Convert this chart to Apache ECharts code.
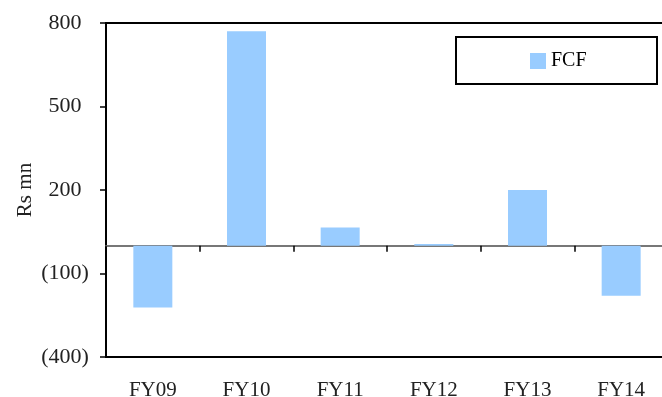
<!DOCTYPE html>
<html><head><meta charset="utf-8">
<script src="https://cdn.jsdelivr.net/npm/echarts@6/dist/echarts.min.js"></script>
<style>html,body{margin:0;padding:0;background:#fff}#c{width:662px;height:397px}</style>
</head><body><div id="c"></div>
<script>
var categories = ['FY09','FY10','FY11','FY12','FY13','FY14'];
var fcf = [-222, 770, 65, 6, 200, -180];
var seriesName = 'FCF';
var yTicks = {min: -400, max: 800, interval: 300};

var font = 'Liberation Serif, Times New Roman, serif';
var chart = echarts.init(document.getElementById('c'));
chart.setOption({
  animation: false,
  grid: {left: 106, top: 23, width: 562, bottom: 40, show: true, borderColor: '#000', borderWidth: 2,
    backgroundColor: 'transparent', containLabel: false, outerBoundsMode: 'none'},
  graphic: [{type: 'rect', shape: {x: 456, y: 37, width: 201, height: 47}, style: {fill: 'none', stroke: '#000', lineWidth: 2}, z: 10}],
  legend: {data: [seriesName], left: 525, top: 46, itemWidth: 16, itemHeight: 16, icon: 'rect', itemGap: 4,
    textStyle: {fontFamily: font, fontSize: 20, color: '#000'}},
  xAxis: [
    {type: 'category', data: categories, position: 'bottom', axisLine: {onZero: true, lineStyle: {color: '#777', width: 2}},
     axisTick: {show: true, length: 6, lineStyle: {color: '#000', width: 1.5}}, axisLabel: {show: false}},
    {type: 'category', data: categories, position: 'bottom', axisLine: {show: false}, axisTick: {show: false},
     axisLabel: {fontFamily: font, fontSize: 21, color: '#222', margin: 23}}
  ],
  yAxis: {type: 'value', min: yTicks.min, max: yTicks.max, interval: yTicks.interval,
    name: 'Rs mn', nameLocation: 'middle', nameGap: 70, nameRotate: 90, nameMoveOverlap: false,
    nameTextStyle: {fontFamily: font, fontSize: 21, color: '#222'},
    axisLine: {show: true, lineStyle: {color: '#000', width: 2}},
    axisTick: {show: true, length: 6, lineStyle: {color: '#000', width: 1.5}},
    splitLine: {show: false},
    axisLabel: {fontFamily: font, fontSize: 22, color: '#222', margin: 41, align: 'center',
      formatter: function (v) { return v < 0 ? '(' + (-v) + ')' : String(v); }}},
  series: [{name: seriesName, type: 'bar', data: fcf, barWidth: 39, xAxisIndex: 0,
    itemStyle: {color: '#99ccff'}}]
});
</script></body></html>
